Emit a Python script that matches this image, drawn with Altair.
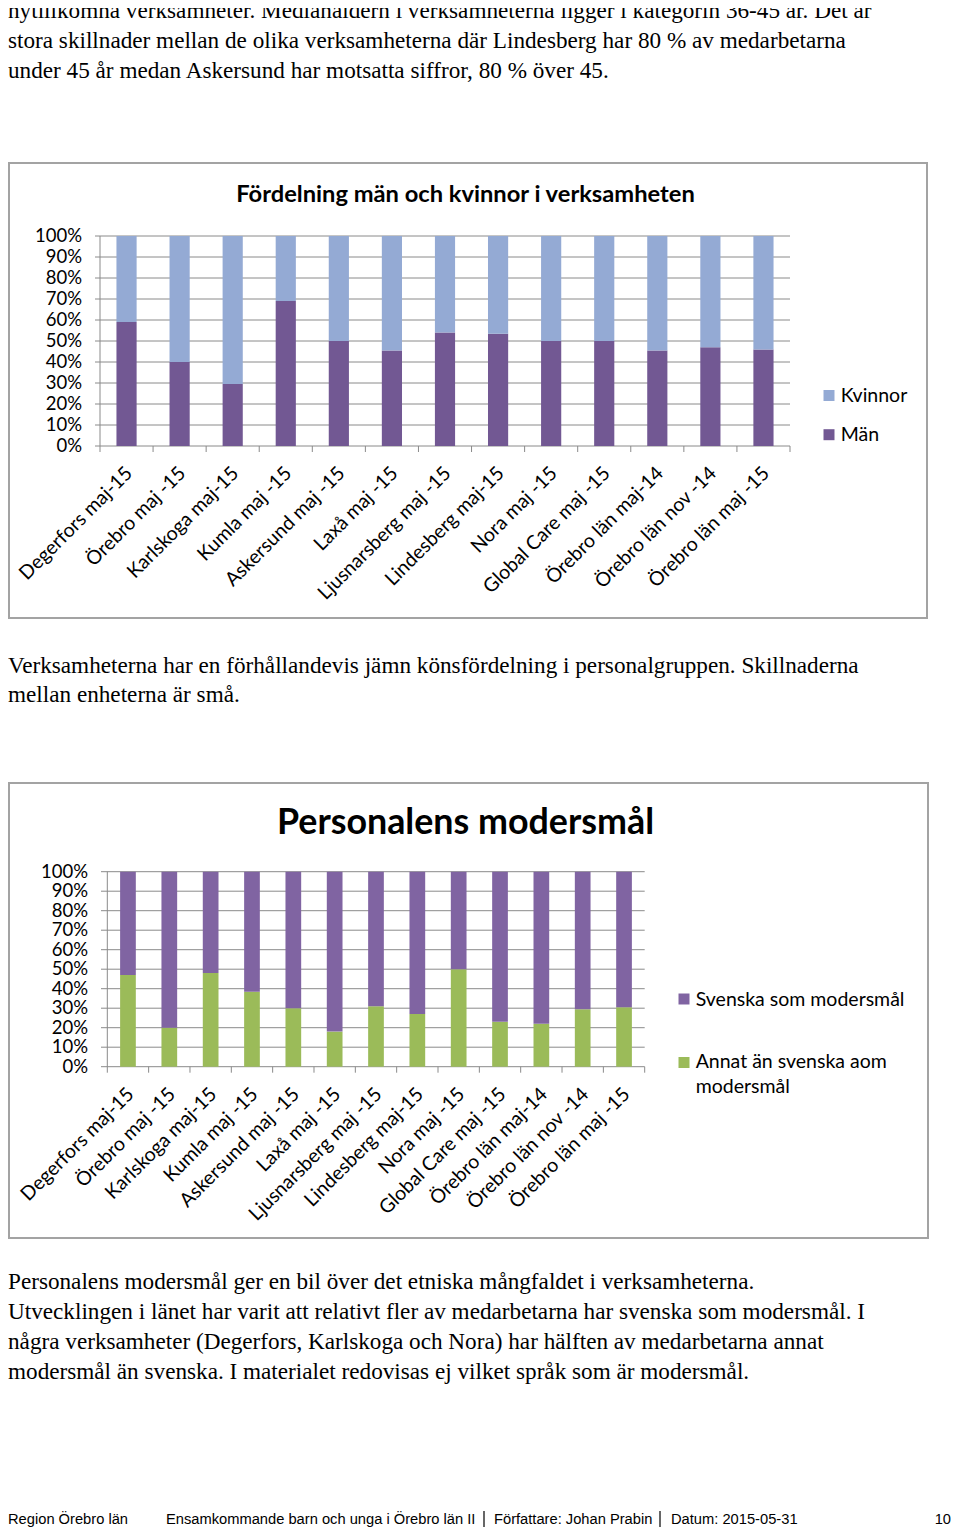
import altair as alt
import pandas as pd

# ---------------- data ----------------
categories = [
    "Degerfors maj-15", "Örebro maj -15", "Karlskoga maj-15", "Kumla maj -15",
    "Askersund maj -15", "Laxå maj -15", "Ljusnarsberg maj -15", "Lindesberg maj-15",
    "Nora maj -15", "Global Care maj -15", "Örebro län maj-14", "Örebro län nov -14",
    "Örebro län maj -15",
]
man = [59, 40, 29.5, 69, 50, 45.5, 54, 53.5, 50, 50, 45.5, 47, 46]
kvinnor = [41, 60, 70.5, 31, 50, 54.5, 46, 46.5, 50, 50, 54.5, 53, 54]
annat = [47, 20, 48, 38.5, 30, 18, 31, 27, 50, 23, 22, 29.5, 30.5]
svenska = [53, 80, 52, 61.5, 70, 82, 69, 73, 50, 77, 78, 70.5, 69.5]
y_ticks = [0, 10, 20, 30, 40, 50, 60, 70, 80, 90, 100]
y_tick_labels = ["0%", "10%", "20%", "30%", "40%", "50%", "60%", "70%", "80%", "90%", "100%"]
series1 = ["Män", "Kvinnor"]
series2 = ["Annat än svenska aom modersmål", "Svenska som modersmål"]

para1 = [
    "nytillkomna verksamheter. Medianåldern i verksamheterna ligger i kategorin 36-45 år. Det är",
    "stora skillnader mellan de olika verksamheterna där Lindesberg har 80 % av medarbetarna",
    "under 45 år medan Askersund har motsatta siffror, 80 % över 45.",
]
para2 = [
    "Verksamheterna har en förhållandevis jämn könsfördelning i personalgruppen. Skillnaderna",
    "mellan enheterna är små.",
]
para3 = [
    "Personalens modersmål ger en bil över det etniska mångfaldet i verksamheterna.",
    "Utvecklingen i länet har varit att relativt fler av medarbetarna har svenska som modersmål. I",
    "några verksamheter (Degerfors, Karlskoga och Nora) har hälften av medarbetarna annat",
    "modersmål än svenska. I materialet redovisas ej vilket språk som är modersmål.",
]
title1 = "Fördelning män och kvinnor i verksamheten"
title2 = "Personalens modersmål"
footer_left = "Region Örebro län"
footer_doc = "Ensamkommande barn och unga i Örebro län II"
footer_author = "Författare: Johan Prabin"
footer_date = "Datum: 2015-05-31"
footer_page = "10"

# ---------------- styles ----------------
C_MAN = "#725893"
C_KV = "#94AAD4"
C_SV = "#8064A2"
C_AN = "#9BBB59"
GRID = "#8a8a8a"
BOX = "#a3a3a3"
SANS = "Lato"
SERIF = "Liberation Serif"
ARIAL = "Liberation Sans"
PARA_SIZE = 23.2
TICK_SIZE = 18.5
CAT_SIZE = 19.5
LEG_SIZE = 19.5

df1 = pd.DataFrame({
    "cat": categories * 2,
    "series": [series1[0]] * len(categories) + [series1[1]] * len(categories),
    "value": man + kvinnor,
    "ord": [0] * len(categories) + [1] * len(categories),
})
df2 = pd.DataFrame({
    "cat": categories * 2,
    "series": [series2[0]] * len(categories) + [series2[1]] * len(categories),
    "value": annat + svenska,
    "ord": [0] * len(categories) + [1] * len(categories),
})
df_ticks = pd.DataFrame({"v": y_ticks, "label": y_tick_labels})
df_cats = pd.DataFrame({"cat": categories})
df_bounds = pd.DataFrame({"i": list(range(len(categories) + 1))})
one = pd.DataFrame({"a": [0]})


def xband(rng):
    return alt.X("cat:N", sort=categories,
                 scale=alt.Scale(domain=categories, range=rng, paddingInner=0.62, paddingOuter=0.31),
                 axis=None)


def yq(field, rng, stack=None):
    if stack:
        return alt.Y(field, stack=stack, scale=alt.Scale(domain=[0, 100], range=rng, nice=False), axis=None)
    return alt.Y(field, scale=alt.Scale(domain=[0, 100], range=rng, nice=False), axis=None)


def text_block(lines, x, y, font, size, weight="normal", align="left", lh=30, color="black"):
    return alt.Chart(one).mark_text(
        text=lines, font=font, fontSize=size, fontWeight=weight, align=align,
        baseline="alphabetic", lineHeight=lh, color=color,
    ).encode(x=alt.value(x), y=alt.value(y))


def box(x0, y0, x1, y1):
    return alt.Chart(one).mark_rect(fill="white", stroke=BOX, strokeWidth=2).encode(
        x=alt.value(x0), x2=alt.value(x1), y=alt.value(y0), y2=alt.value(y1))


def rule(x0, y0, x1, y1, color=GRID, w=1):
    return alt.Chart(one).mark_rule(color=color, strokeWidth=w).encode(
        x=alt.value(x0), x2=alt.value(x1), y=alt.value(y0), y2=alt.value(y1))


def square(cx, cy, color, s=11):
    return alt.Chart(one).mark_rect(fill=color).encode(
        x=alt.value(cx - s / 2), x2=alt.value(cx + s / 2),
        y=alt.value(cy - s / 2), y2=alt.value(cy + s / 2))


def bar_panel(df, xr, yr, colors, domain, ylab_x, label_y, gx0, tick_len=6):
    layers = []
    # gridlines
    layers.append(alt.Chart(df_ticks).mark_rule(color=GRID, strokeWidth=1).encode(
        y=yq("v:Q", yr), x=alt.value(gx0), x2=alt.value(xr[1])))
    # y axis line
    layers.append(rule(xr[0], yr[1], xr[0], yr[0]))
    # bottom ticks at category boundaries
    layers.append(alt.Chart(df_bounds).mark_rule(color=GRID, strokeWidth=1).encode(
        x=alt.X("i:Q", scale=alt.Scale(domain=[0, len(categories)], range=xr, nice=False, zero=False), axis=None),
        y=alt.value(yr[0]), y2=alt.value(yr[0] + tick_len)))
    # bars
    layers.append(alt.Chart(df).mark_bar().encode(
        x=xband(xr),
        y=yq("value:Q", yr, stack="zero"),
        color=alt.Color("series:N", scale=alt.Scale(domain=domain, range=colors), legend=None),
        order=alt.Order("ord:Q"),
    ))
    # y labels
    layers.append(alt.Chart(df_ticks).mark_text(
        align="right", baseline="middle", font=SANS, fontSize=TICK_SIZE, color="black").encode(
        y=yq("v:Q", yr), x=alt.value(ylab_x), text="label:N"))
    # x labels
    layers.append(alt.Chart(df_cats).mark_text(
        align="right", baseline="middle", angle=315, font=SANS, fontSize=CAT_SIZE, color="black", dx=4).encode(
        x=xband(xr), y=alt.value(label_y), text="cat:N"))
    return layers


layers = []
# paragraphs
layers.append(text_block(para1, 0, 9.5, SERIF, PARA_SIZE, lh=30))
layers.append(text_block(para2, 0, 664.7, SERIF, PARA_SIZE, lh=29.6))
layers.append(text_block(para3, 0, 1281, SERIF, PARA_SIZE, lh=30))

# chart 1
layers.append(box(1, 155, 919, 610))
layers.append(text_block(title1, 457.5, 194.3, SANS, 23.7, weight="bold", align="center"))
layers += bar_panel(df1, [92, 782], [438, 228], [C_MAN, C_KV], series1, 74, 465, 87)
layers.append(square(821, 387.5, C_KV))
layers.append(square(821, 426.7, C_MAN))
layers.append(text_block("Kvinnor", 832.7, 393.7, SANS, LEG_SIZE))
layers.append(text_block("Män", 832.7, 433, SANS, LEG_SIZE))

# chart 2
layers.append(box(1, 775, 920, 1230))
layers.append(text_block(title2, 457.5, 826.3, SANS, 35.8, weight="bold", align="center"))
layers += bar_panel(df2, [99.3, 636.7], [1058.7, 863.7], [C_AN, C_SV], series2, 80, 1086, 93)
layers.append(square(676, 991, C_SV))
layers.append(square(676, 1054.5, C_AN))
layers.append(text_block("Svenska som modersmål", 687.7, 997.7, SANS, LEG_SIZE))
layers.append(text_block(["Annat än svenska aom", "modersmål"], 687.7, 1060.3, SANS, LEG_SIZE, lh=25))

# footer
FY = 1515.5
layers.append(text_block(footer_left, 0, FY, ARIAL, 14.7))
layers.append(text_block(footer_doc, 158, FY, ARIAL, 14.7))
layers.append(rule(476, 1503, 476, 1519, color="black", w=1.2))
layers.append(text_block(footer_author, 486, FY, ARIAL, 14.7))
layers.append(rule(652, 1503, 652, 1519, color="black", w=1.2))
layers.append(text_block(footer_date, 663, FY, ARIAL, 14.7))
layers.append(text_block(footer_page, 943, FY, ARIAL, 14.7, align="right"))

chart = alt.layer(*layers).properties(
    width=944, height=1519, autosize="none", padding=0,
).resolve_scale(
    x="independent", y="independent", color="independent",
).configure_view(stroke=None)

chart.save("out.html", embed_options={"renderer": "svg", "actions": False})
